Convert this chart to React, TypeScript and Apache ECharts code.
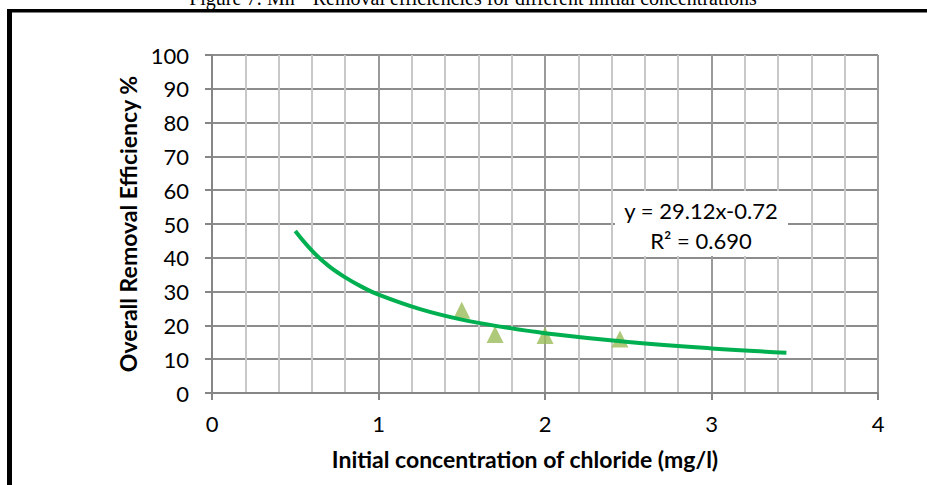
import React, { useEffect, useRef } from "react";
import * as echarts from "echarts";

// Measured points
const concentrations = [1.5, 1.7, 2.0, 2.45];
const efficiencies = [24.5, 17.3, 17.0, 16.0];

// Power trendline
const trendX = [0.5, 0.6, 0.7, 0.8, 0.9, 1.0, 1.25, 1.5, 1.75, 2.0, 2.5, 3.0, 3.45];
const trendY = [47.9, 42.1, 37.6, 34.2, 31.4, 29.1, 24.8, 21.7, 19.5, 17.7, 15.1, 13.2, 11.9];

const xTicks = [0, 1, 2, 3, 4];
const yTicks = [0, 10, 20, 30, 40, 50, 60, 70, 80, 90, 100];

const caption = "Figure 7: Mn\u00B2\u207A Removal efficiencies for different initial concentrations";
const equationText = "y = 29.12x-0.72";
const r2Text = "R\u00B2 = 0.690";
const xTitle = "Initial concentration of chloride (mg/l)";
const yTitle = "Overall Removal Efficiency %";

const FONT = "Lato, 'Open Sans', sans-serif";

export default function App() {
  const ref = useRef<HTMLDivElement>(null);

  useEffect(() => {
    if (!ref.current) return;
    const chart = echarts.init(ref.current, undefined, { renderer: "svg" });
    const option: any = {
      animation: false,
      backgroundColor: "#ffffff",
      textStyle: { fontFamily: FONT },
      grid: { left: 212, right: 49, top: 55, bottom: 92, containLabel: false },
      xAxis: {
        type: "value",
        min: xTicks[0],
        max: xTicks[xTicks.length - 1],
        interval: 1,
        axisLine: { show: true, onZero: false, lineStyle: { color: "#868686", width: 2 } },
        axisTick: { show: true, inside: false, length: 7, lineStyle: { color: "#868686", width: 2 } },
        axisLabel: { fontFamily: FONT, fontSize: 22, color: "#000", margin: 19 },
        splitLine: { show: true, lineStyle: { color: "#9a9a9a", width: 2 } },
        minorSplitLine: { show: true, lineStyle: { color: "#c8c8c8", width: 2 } },
        minorTick: { show: false, splitNumber: 5 },
      },
      yAxis: {
        type: "value",
        min: yTicks[0],
        max: yTicks[yTicks.length - 1],
        interval: 10,
        name: yTitle,
        nameLocation: "middle",
        nameGap: 70,
        nameRotate: 90,
        nameTextStyle: { fontFamily: FONT, fontWeight: "bold", fontSize: 23, color: "#000" },
        axisLine: { show: true, lineStyle: { color: "#868686", width: 2 } },
        axisTick: { show: true, inside: false, length: 7, lineStyle: { color: "#868686", width: 2 } },
        axisLabel: { fontFamily: FONT, fontSize: 22, color: "#000", margin: 23 },
        splitLine: { show: true, lineStyle: { color: "#8c8c8c", width: 2 } },
      },
      series: [
        {
          name: "Measured",
          type: "scatter",
          symbol: "triangle",
          symbolSize: [17, 17],
          itemStyle: { color: "#9BBB59" },
          data: concentrations.map((x, i) => [x, efficiencies[i]]),
          z: 2,
        },
        {
          name: "Power trend",
          type: "line",
          smooth: 0.4,
          showSymbol: false,
          symbol: "none",
          lineStyle: { color: "#00B050", width: 4 },
          data: trendX.map((x, i) => [x, trendY[i]]),
          z: 3,
        },
      ],
      graphic: [
        {
          type: "rect",
          shape: { x: 7, y: 9, width: 920, height: 3.5 },
          style: { fill: "#000" },
          z: 100,
        },
        {
          type: "rect",
          shape: { x: 7, y: 9, width: 5, height: 476 },
          style: { fill: "#000" },
          z: 100,
        },
        {
          type: "text",
          x: 473,
          y: 8,
          style: {
            text: caption,
            font: "20px 'Liberation Serif', 'Times New Roman', serif",
            fill: "#000",
            align: "center",
            verticalAlign: "bottom",
          },
          z: 100,
        },
        {
          type: "text",
          x: 525,
          y: 459,
          style: {
            text: xTitle,
            font: "bold 23px Lato, 'Open Sans', sans-serif",
            fill: "#000",
            align: "center",
            verticalAlign: "middle",
          },
          z: 100,
        },
        {
          type: "rect",
          shape: { x: 615, y: 191, width: 173, height: 65 },
          style: { fill: "#ffffff" },
          z: 50,
        },
        {
          type: "text",
          x: 701,
          y: 210,
          style: {
            text: equationText,
            font: "22px Lato, 'Open Sans', sans-serif",
            fill: "#000",
            align: "center",
            verticalAlign: "middle",
          },
          z: 51,
        },
        {
          type: "text",
          x: 701,
          y: 240,
          style: {
            text: r2Text,
            font: "22px Lato, 'Open Sans', sans-serif",
            fill: "#000",
            align: "center",
            verticalAlign: "middle",
          },
          z: 51,
        },
      ],
    };
    chart.setOption(option);
    return () => chart.dispose();
  }, []);

  return (
    <div
      ref={ref}
      style={{ position: "absolute", left: 0, top: 0, width: 927, height: 485 }}
    />
  );
}
